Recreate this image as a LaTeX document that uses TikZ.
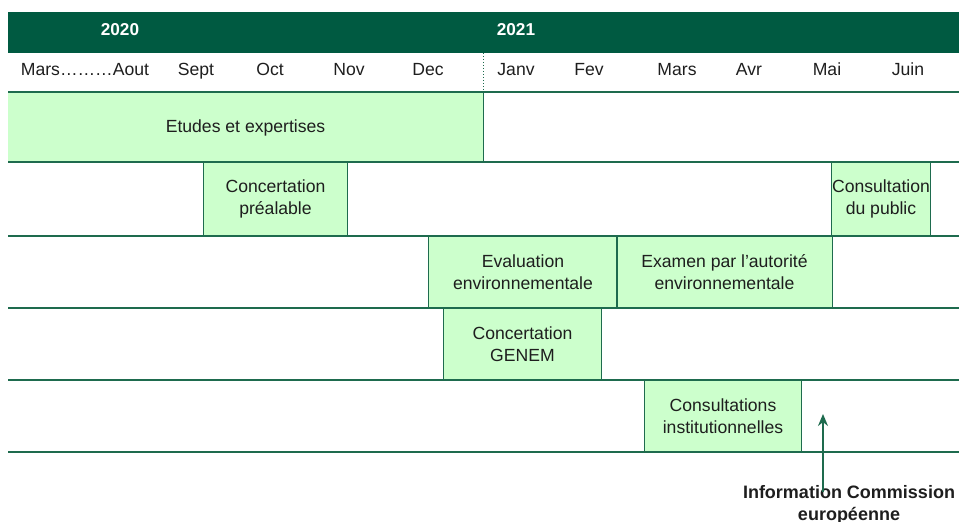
\documentclass[tikz,border=0pt]{standalone}
\usepackage{fontspec}
\setmainfont{Liberation Sans}
\usetikzlibrary{fit,arrows.meta}
\definecolor{headgreen}{HTML}{005A41}
\definecolor{linegreen}{HTML}{1E6B4E}
\definecolor{boxgreen}{HTML}{CCFFCC}
\definecolor{txt}{HTML}{1E1E1E}
\begin{document}
\begin{tikzpicture}[x=0.5pt,y=-0.5pt,
  every node/.style={font=\fontsize{8.8}{11}\selectfont, text=txt},
  box/.style={fill=boxgreen, draw=none, inner sep=0pt},
  lbl/.style={align=center, inner sep=0pt},
  side/.style={draw=linegreen, line width=0.4pt},
  rowline/.style={draw=linegreen, line width=0.8pt},
  year/.style={font=\fontsize{8.6}{10}\selectfont\bfseries, text=white, anchor=base},
  month/.style={anchor=base}]
\useasboundingbox (0,0) rectangle (959,522);
% header
\fill[headgreen] (8,12) rectangle (959,53);
\node[year] (y2020) at (120,36) {2020};
\node[year] (y2021) at (516,36) {2021};
% months
\node[month] (m1) at (85,76) {Mars………Aout};
\node[month] (m2) at (196,76) {Sept};
\node[month] (m3) at (270,76) {Oct};
\node[month] (m4) at (349,76) {Nov};
\node[month] (m5) at (428,76) {Dec};
\node[month] (m6) at (516,76) {Janv};
\node[month] (m7) at (589,76) {Fev};
\node[month] (m8) at (677,76) {Mars};
\node[month] (m9) at (749,76) {Avr};
\node[month] (m10) at (827,76) {Mai};
\node[month] (m11) at (908,76) {Juin};
\draw[linegreen, line width=0.5pt, densely dotted] (483,53) -- (483,92);
% boxes
\node[box, fit={(8,92) (483,162)}] (etudes) {};
\node[box, fit={(204,162) (347,236)}] (cprea) {};
\node[box, fit={(832,162) (930,236)}] (cpub) {};
\node[box, fit={(429,236) (617,308)}] (eval) {};
\node[box, fit={(617,236) (832,308)}] (exam) {};
\node[box, fit={(444,308) (601,380)}] (genem) {};
\node[box, fit={(645,380) (801,452)}] (cinst) {};
\draw[side] (etudes.north east) -- (etudes.south east);
\foreach \b in {cprea,cpub,eval,exam,genem,cinst}
  \draw[side] (\b.north west) -- (\b.south west) (\b.north east) -- (\b.south east);
\node[lbl] (t-etudes) at (245.5,128) {Etudes et expertises};
\node[lbl] (t-cprea) at (cprea.center) {Concertation\\préalable};
\node[lbl] (t-cpub) at (cpub.center) {Consultation\\du public};
\node[lbl] (t-eval) at (eval.center) {Evaluation\\environnementale};
\node[lbl] (t-exam) at (exam.center) {Examen par l’autorité\\environnementale};
\node[lbl] (t-genem) at (genem.center) {Concertation\\GENEM};
\node[lbl] (t-cinst) at (cinst.center) {Consultations\\institutionnelles};
% row lines
\foreach \yy in {92,162,236,308,380,452}
  \draw[rowline] (8,\yy) -- (959,\yy);
% arrow and label
\node[font=\fontsize{9}{11}\selectfont\bfseries, align=center] (info) at (849,505) {Information Commission\\européenne};
\coordinate (astart) at (823,492);
\coordinate (aend) at (823,414);
\draw[linegreen, line width=0.8pt, -{Stealth[length=6pt,width=5pt]}] (astart) -- (aend);
\end{tikzpicture}
\end{document}
